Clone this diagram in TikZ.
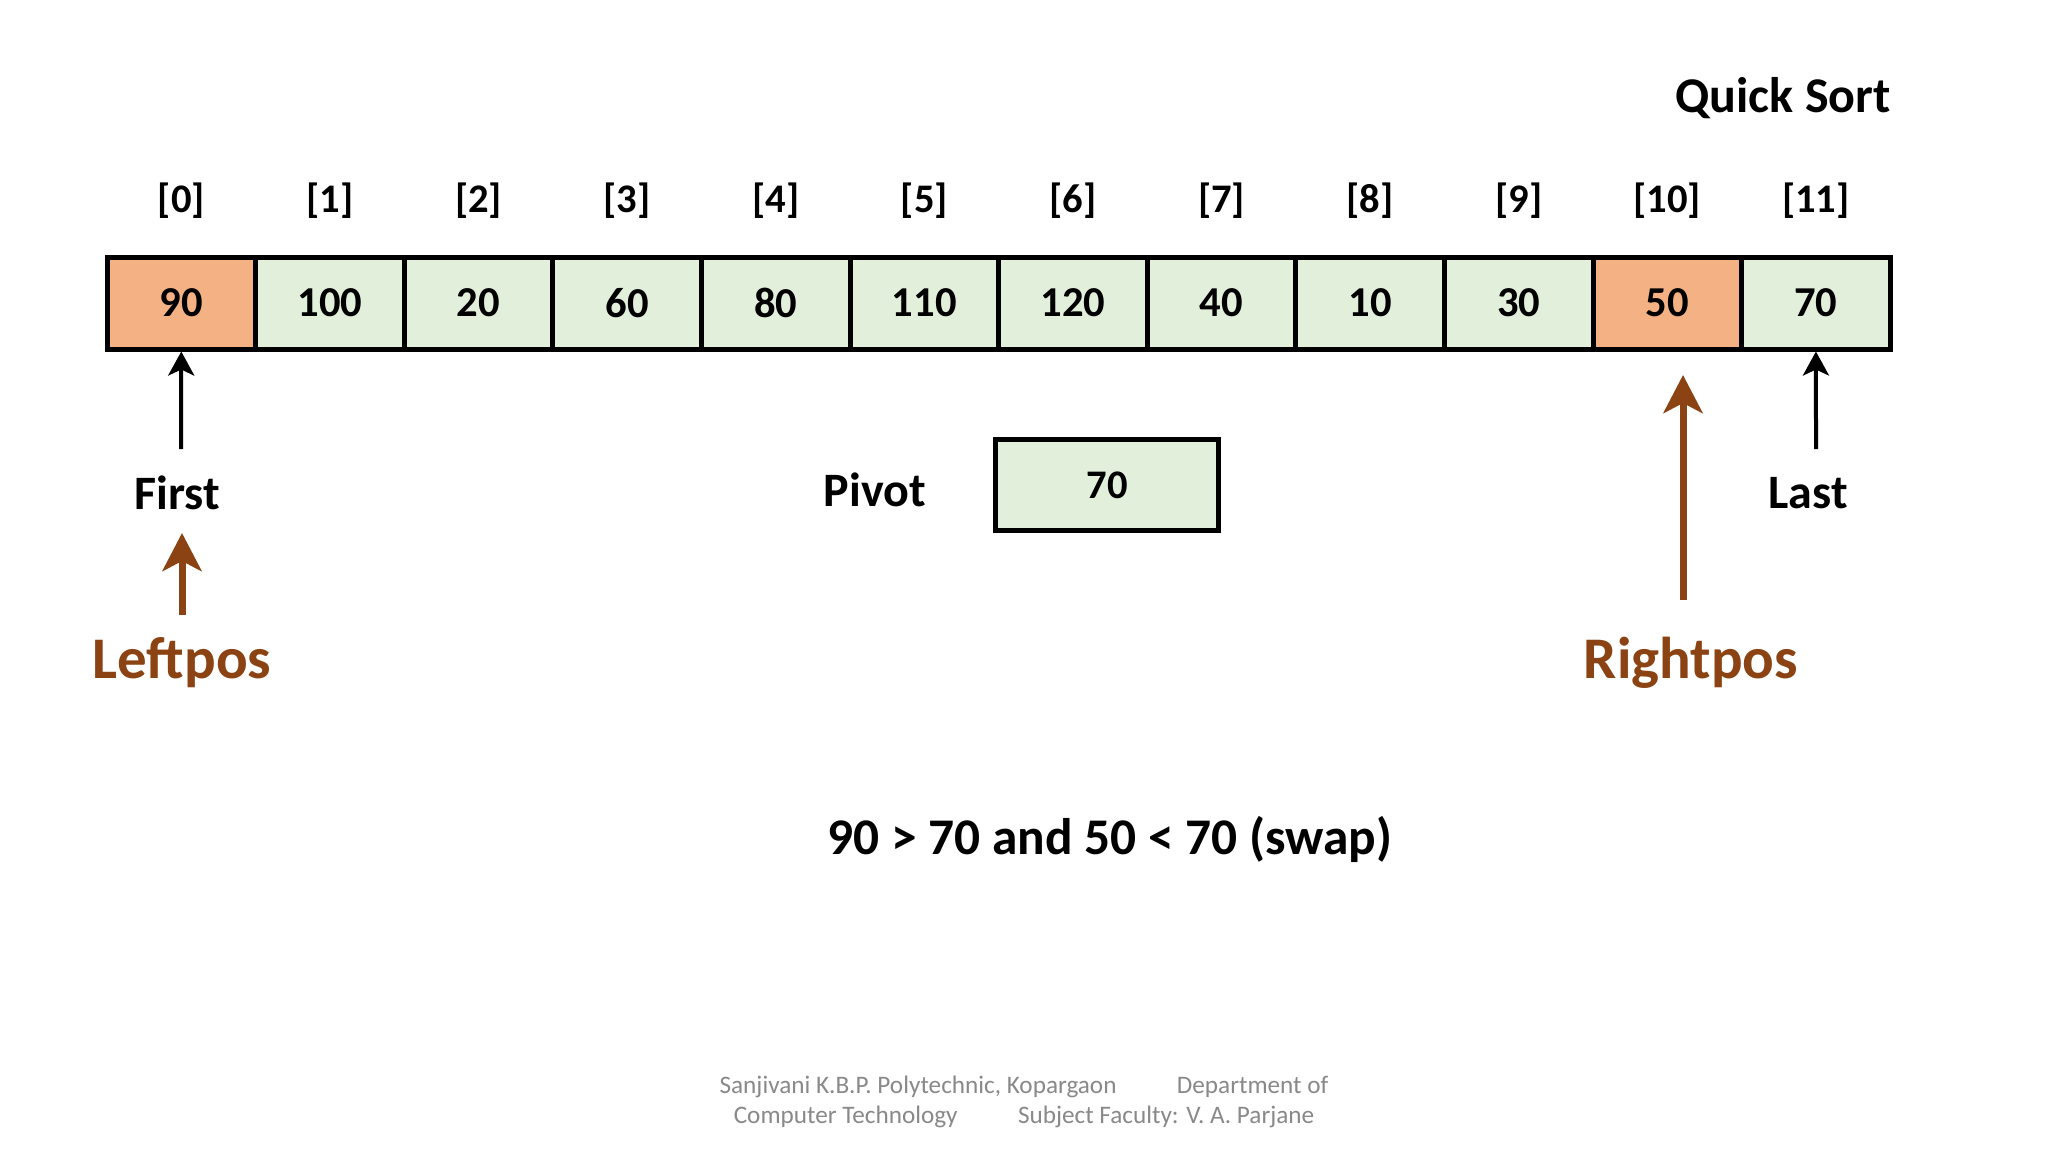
\documentclass[tikz,border=0pt]{standalone}
\usepackage{fontspec}
\setmainfont{Carlito}
\usetikzlibrary{arrows.meta}
\definecolor{cellgreen}{HTML}{E2EFDA}
\definecolor{cellorange}{HTML}{F4B183}
\definecolor{ptrbrown}{RGB}{139,67,19}
\definecolor{footgray}{RGB}{137,137,137}
\newcommand{\fsz}[1]{\fontsize{#1}{#1}\selectfont}
\tikzset{
  cellbox/.style={draw=black, line width=2.5pt, fill=cellgreen, minimum width=74.3pt, minimum height=46pt, inner sep=0pt, font=\bfseries\fsz{21.3pt}},
  hotcell/.style={cellbox, fill=cellorange},
  idxlabel/.style={anchor=base, inner sep=0pt, font=\bfseries\fsz{20.3pt}},
  blacklabel/.style={anchor=base, inner sep=0pt, font=\bfseries\fsz{24pt}},
  brownlabel/.style={anchor=base, inner sep=0pt, text=ptrbrown, font=\bfseries\fsz{29.5pt}},
  blackarrow/.style={draw=black, line width=2pt, -{Stealth[length=12pt, width=13pt, inset=3pt]}},
  brownarrow/.style={draw=ptrbrown, line width=3.5pt, -{Stealth[length=19pt, width=19.5pt, inset=5pt]}},
  footer/.style={anchor=base, inner sep=0pt, text=footgray, font=\fsz{12.6pt}}
}
\begin{document}
\begin{tikzpicture}[x=0.5pt, y=-0.5pt]
\useasboundingbox (0,0) rectangle (2048,1152);
\fill[white] (0,0) rectangle (2048,1152);

\node[anchor=base, inner sep=0pt, font=\bfseries\fsz{25pt}] (title) at (1783,112) {Quick Sort};

% array cells
\foreach \v [count=\i from 0] in {90,100,20,60,80,110,120,40,10,30,50,70} {
  \pgfmathsetmacro{\cx}{107+148.6*(\i+0.5)}
  \ifnum\i=0
    \node[hotcell] (c\i) at (\cx,303) {\raisebox{-0.7pt}{\v}};
  \else\ifnum\i=10
    \node[hotcell] (c\i) at (\cx,303) {\raisebox{-0.7pt}{\v}};
  \else
    \node[cellbox] (c\i) at (\cx,303) {\raisebox{-0.7pt}{\v}};
  \fi\fi
  \node[idxlabel] (idx\i) at (\cx,212) {[\i]};
}

% First / Last
\node[blacklabel] (first) at (177,509) {First};
\node[blacklabel] (last) at (1808,508) {Last};
\coordinate (firsttail) at (181,449);
\coordinate (lasttail) at (1816,449);
\draw[blackarrow] (firsttail) -- (c0.south);
\draw[blackarrow] (lasttail) -- (c11.south);

% Pivot
\node[blacklabel] (pivotlabel) at (875,506) {Pivot};
\node[cellbox, minimum width=111.75pt, minimum height=45.5pt, font=\bfseries\fsz{20.3pt}] (pivot) at (1107,485) {\raisebox{-1pt}{70}};

% Leftpos / Rightpos
\node[brownlabel] (leftpos) at (182,678) {Leftpos};
\node[brownlabel] (rightpos) at (1691,678) {Rightpos};
\coordinate (lefttail) at (182,615);
\coordinate (lefttip) at (182,533);
\coordinate (righttail) at (1683,600);
\coordinate (righttip) at (1683,375);
\draw[brownarrow] (lefttail) -- (lefttip);
\draw[brownarrow] (righttail) -- (righttip);

% condition
\node[anchor=base, inner sep=0pt, font=\bfseries\fsz{25.7pt}] (cond) at (1110,854) {90 > 70 and 50 < 70 (swap)};

% footer
\node[footer] (foot1) at (1024,1093) {Sanjivani K.B.P. Polytechnic, Kopargaon\hspace{2.4em}Department of};
\node[footer] (foot2) at (1024,1123) {Computer Technology\hspace{2.4em}Subject Faculty: V. A. Parjane};
\end{tikzpicture}
\end{document}
